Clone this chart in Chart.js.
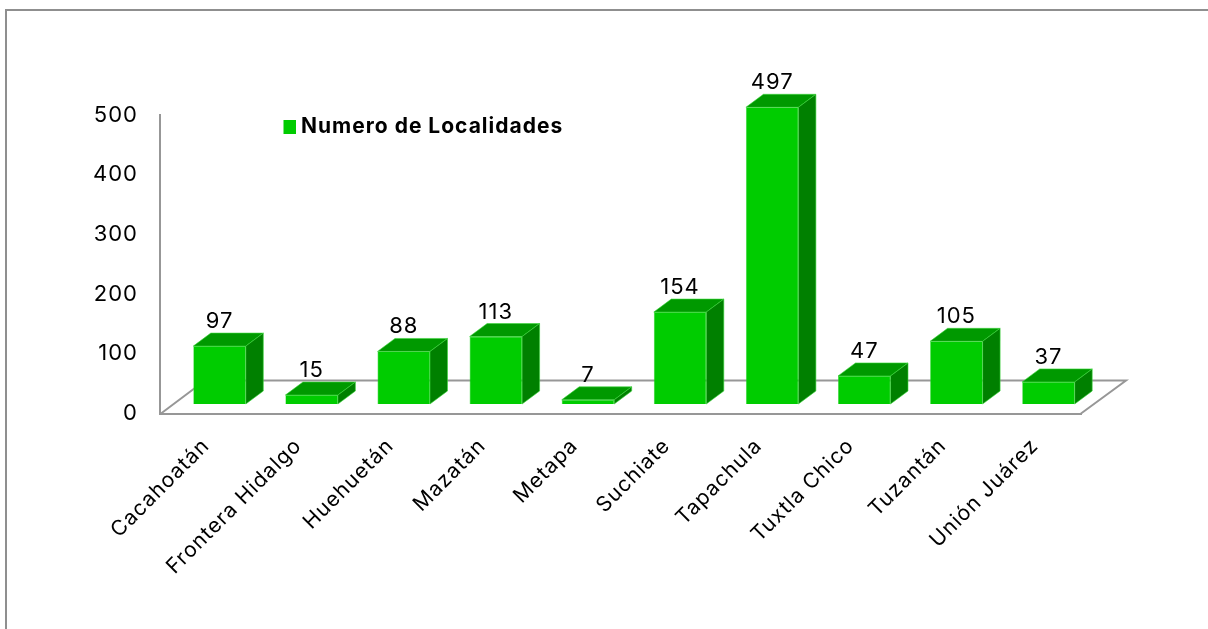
<!DOCTYPE html>
<html><head><meta charset="utf-8">
<style>
html,body{margin:0;padding:0;background:#fff;overflow:hidden}
#wrap{position:relative;width:1208px;height:629px}
#frame{position:absolute;left:5px;top:9px;right:0;bottom:0;border-left:2px solid #8f8f8f;border-top:2px solid #8f8f8f;pointer-events:none}
canvas{position:absolute;left:0;top:0}
</style>
<script src="https://cdn.jsdelivr.net/npm/chart.js@4/dist/chart.umd.min.js"></script>
</head><body>
<div id="wrap"><canvas id="c" width="1208" height="629"></canvas><div id="frame"></div></div>
<script>
const categories = ['Cacahoatán','Frontera Hidalgo','Huehuetán','Mazatán','Metapa','Suchiate','Tapachula','Tuxtla Chico','Tuzantán','Unión Juárez'];
const localidades = [97,15,88,113,7,154,497,47,105,37];
const yTicks = [0,100,200,300,400,500];
const seriesName = 'Numero de Localidades';

const FONT = 'Inter, "Noto Sans", sans-serif';
const GRAY = '#979797';
const FRONT = '#00cc00', TOP = '#009900', SIDE = '#008000';
const EDGE = '#3ad63a';
// depth of the 3D floor, and where the bars stand on it
const WALL_DX = 45, WALL_DY = 33;
const BAR_SHIFT_X = 13.5, BAR_SHIFT_Y = 9.5;
const BAR_DX = 17.5, BAR_DY = 13;

const swatch = document.createElement('canvas');
swatch.width = 14; swatch.height = 14;
const sc = swatch.getContext('2d'); sc.fillStyle = FRONT; sc.fillRect(0,0,14,14);

function poly(ctx, pts, fill){
  ctx.beginPath();
  pts.forEach((p,i)=> i?ctx.lineTo(p[0],p[1]):ctx.moveTo(p[0],p[1]));
  ctx.closePath();
  ctx.fillStyle = fill; ctx.fill();
  ctx.strokeStyle = EDGE; ctx.lineWidth = 0.6; ctx.stroke();
}

const plugin3d = {
  id:'plugin3d',
  beforeUpdate(chart){ chart.ctx.letterSpacing = '1px'; },
  beforeDraw(chart){ chart.ctx.letterSpacing = '1px'; },
  afterLayout(chart){
    const l = chart.legend;
    const w = l.right - l.left, h = l.bottom - l.top;
    l.left = 283.5; l.right = 283.5 + w; l.top = 112; l.bottom = 112 + h;
  },
  beforeDatasetsDraw(chart){
    const ctx = chart.ctx, a = chart.chartArea;
    ctx.save();
    ctx.strokeStyle = GRAY; ctx.lineWidth = 2; ctx.lineCap='round';
    ctx.beginPath();
    ctx.moveTo(a.left+1, a.bottom);
    ctx.lineTo(a.left+WALL_DX, a.bottom-WALL_DY);
    ctx.lineTo(a.right+WALL_DX, a.bottom-WALL_DY);
    ctx.lineTo(a.right, a.bottom);
    ctx.stroke();
    ctx.restore();
    ctx.save();
    ctx.translate(BAR_SHIFT_X, -BAR_SHIFT_Y);
    chart.getDatasetMeta(0).data.forEach(b=>{
      const l=b.x-b.width/2, r=b.x+b.width/2, t=b.y, bt=b.base;
      poly(ctx,[[l,t],[l+BAR_DX,t-BAR_DY],[r+BAR_DX,t-BAR_DY],[r,t]],TOP);
      poly(ctx,[[r,t],[r+BAR_DX,t-BAR_DY],[r+BAR_DX,bt-BAR_DY],[r,bt]],SIDE);
    });
  },
  afterDatasetsDraw(chart){
    const ctx = chart.ctx;
    ctx.fillStyle = '#000';
    ctx.font = '22px '+FONT;
    ctx.textAlign='center'; ctx.textBaseline='alphabetic';
    const meta = chart.getDatasetMeta(0);
    meta.data.forEach((b,i)=>{
      ctx.fillText(String(localidades[i]), b.x, b.y-BAR_DY-5);
    });
    ctx.restore();
  }
};

new Chart(document.getElementById('c'),{
  type:'bar',
  plugins:[plugin3d],
  data:{labels:categories,datasets:[{
    label:seriesName,data:localidades,backgroundColor:FRONT,borderColor:EDGE,borderWidth:0.6,
    barPercentage:0.57,categoryPercentage:1
  }]},
  options:{
    responsive:false,animation:false,
    devicePixelRatio:1,
    layout:{padding:{left:0,right:127,top:115,bottom:0}},
    plugins:{
      tooltip:{enabled:false},
      legend:{
        position:'chartArea',align:'start',
        labels:{usePointStyle:true,pointStyle:swatch,pointStyleWidth:3,boxHeight:14,padding:4,color:'#000',font:{family:FONT,size:21,weight:'bold'}}
      }
    },
    scales:{
      y:{
        min:0,max:500,
        afterFit(s){s.width=160;},
        afterBuildTicks(s){s.ticks=yTicks.map(v=>({value:v}));},
        grid:{display:false},
        border:{display:true,color:GRAY,width:2},
        ticks:{padding:14,color:'#000',font:{family:FONT,size:22}}
      },
      x:{
        afterFit(s){s.height=629-413.5;},
        grid:{display:false},
        border:{display:true,color:GRAY,width:2},
        ticks:{minRotation:45,maxRotation:45,autoSkip:false,padding:12,color:'#000',font:{family:FONT,size:21}}
      }
    }
  }
});
</script>
</body></html>
